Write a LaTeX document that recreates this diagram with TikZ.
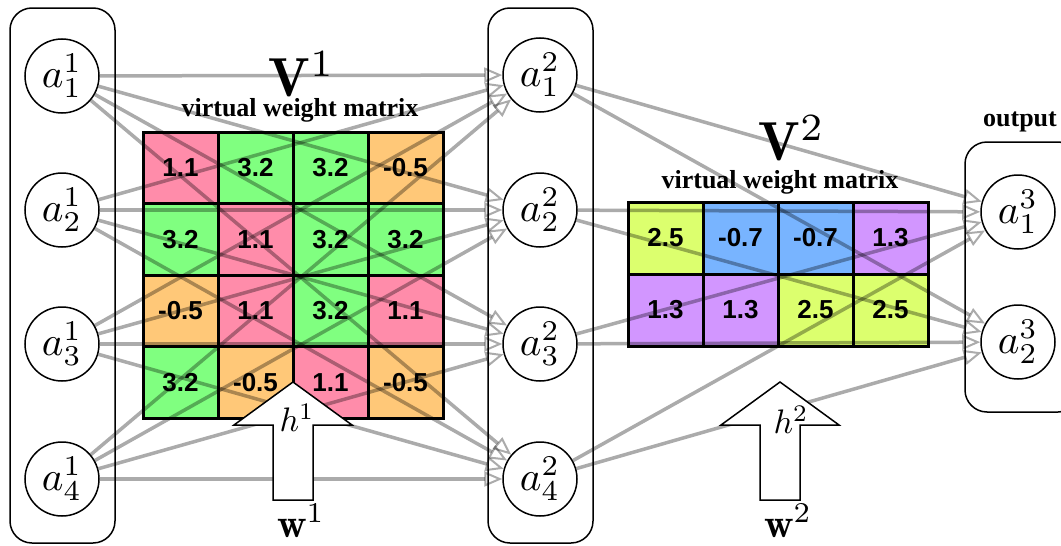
\documentclass[tikz,border=0pt]{standalone}
\usepackage{fontspec}
\newfontfamily\cellfont{Liberation Sans}
\newfontfamily\labfont{Liberation Serif}
\usetikzlibrary{arrows.meta}
\definecolor{cpink}{RGB}{255,140,170}
\definecolor{cgreen}{RGB}{128,255,128}
\definecolor{corange}{RGB}{255,200,120}
\definecolor{cyellow}{RGB}{220,255,110}
\definecolor{cblue}{RGB}{120,180,255}
\definecolor{cpurple}{RGB}{210,150,255}
\newcommand{\nlab}[1]{\scalebox{4.1}{$#1$}}
\tikzset{
  neuron/.style={circle, draw, line width=1.5pt, minimum size=74pt, inner sep=0pt, fill=white},
  layerbox/.style={draw, line width=1.5pt, rounded corners=22pt},
  cell/.style={draw, line width=3pt, minimum width=75pt, minimum height=71.5pt, inner sep=0pt, font=\cellfont\bfseries\fontsize{26}{28}\selectfont},
  conn/.style={line width=3.5pt, draw=black, opacity=0.33, -{Triangle[open, length=18pt, width=15pt, line width=2pt]}},
  bigarrow/.style={draw, line width=1.5pt, fill=white, line join=miter},
  caption/.style={font=\labfont\bfseries\fontsize{26}{28}\selectfont},
}
\begin{document}
\begin{tikzpicture}[x=1pt, y=-1pt]
\useasboundingbox (0,0) rectangle (1061,546);
\clip (0,0) rectangle (1061,546);
% layer boxes
\draw[layerbox] (10,8) rectangle (115,543);
\draw[layerbox] (488,8) rectangle (593,543);
\draw[layerbox] (965,142) rectangle (1080,412);
% matrix 1
\foreach \r/\c/\col/\v in {
  0/0/cpink/1.1, 0/1/cgreen/3.2, 0/2/cgreen/3.2, 0/3/corange/-0.5,
  1/0/cgreen/3.2, 1/1/cpink/1.1, 1/2/cgreen/3.2, 1/3/cgreen/3.2,
  2/0/corange/-0.5, 2/1/cpink/1.1, 2/2/cgreen/3.2, 2/3/cpink/1.1,
  3/0/cgreen/3.2, 3/1/corange/-0.5, 3/2/cpink/1.1, 3/3/corange/-0.5}
  \node[cell, fill=\col] (ma-\r-\c) at ({180.5+75*\c},{167.75+71.5*\r}) {\v};
% matrix 2
\foreach \r/\c/\col/\v in {
  0/0/cyellow/2.5, 0/1/cblue/-0.7, 0/2/cblue/-0.7, 0/3/cpurple/1.3,
  1/0/cpurple/1.3, 1/1/cpurple/1.3, 1/2/cyellow/2.5, 1/3/cyellow/2.5}
  \node[cell, fill=\col, minimum height=72pt] (mb-\r-\c) at ({665.5+75*\c},{238+72*\r}) {\v};
% neurons
\node[neuron] (a11) at (62,76) {\nlab{a^1_1}};
\node[neuron] (a12) at (62,210) {\nlab{a^1_2}};
\node[neuron] (a13) at (62,344) {\nlab{a^1_3}};
\node[neuron] (a14) at (62,479) {\nlab{a^1_4}};
\node[neuron] (a21) at (540,75) {\nlab{a^2_1}};
\node[neuron] (a22) at (540,210) {\nlab{a^2_2}};
\node[neuron] (a23) at (540,344) {\nlab{a^2_3}};
\node[neuron] (a24) at (540,479) {\nlab{a^2_4}};
\node[neuron] (a31) at (1018,212) {\nlab{a^3_1}};
\node[neuron] (a32) at (1018,342) {\nlab{a^3_2}};
% connections
\foreach \i in {1,...,4}
  \foreach \j in {1,...,4}
    \draw[conn] (a1\i) -- (a2\j);
\foreach \i in {1,...,4}
  \foreach \j in {1,2}
    \draw[conn] (a2\i) -- (a3\j);
% block arrows
\draw[bigarrow] (293,382) -- (352,425) -- (313,425) -- (313,500) -- (273,500) -- (273,425) -- (234,425) -- cycle;
\draw[bigarrow] (780,382) -- (839,425) -- (800,425) -- (800,500) -- (760,500) -- (760,425) -- (721,425) -- cycle;
% labels
\node (h1) at (297,418) {\scalebox{3.4}{$h^1$}};
\node (h2) at (791,420) {\scalebox{3.4}{$h^2$}};
\node (w1) at (301,521) {\scalebox{4.1}{$\mathbf{w}^1$}};
\node (w2) at (788,521) {\scalebox{4.1}{$\mathbf{w}^2$}};
\node (v1) at (302,74) {\scalebox{5.5}{$\mathbf{V}^1$}};
\node (v2) at (792,138) {\scalebox{5.5}{$\mathbf{V}^2$}};
\node[caption] (c1) at (300,110) {virtual weight matrix};
\node[caption] (c2) at (780,182) {virtual weight matrix};
\node[caption] (out) at (1020,122) {output};
\end{tikzpicture}
\end{document}
